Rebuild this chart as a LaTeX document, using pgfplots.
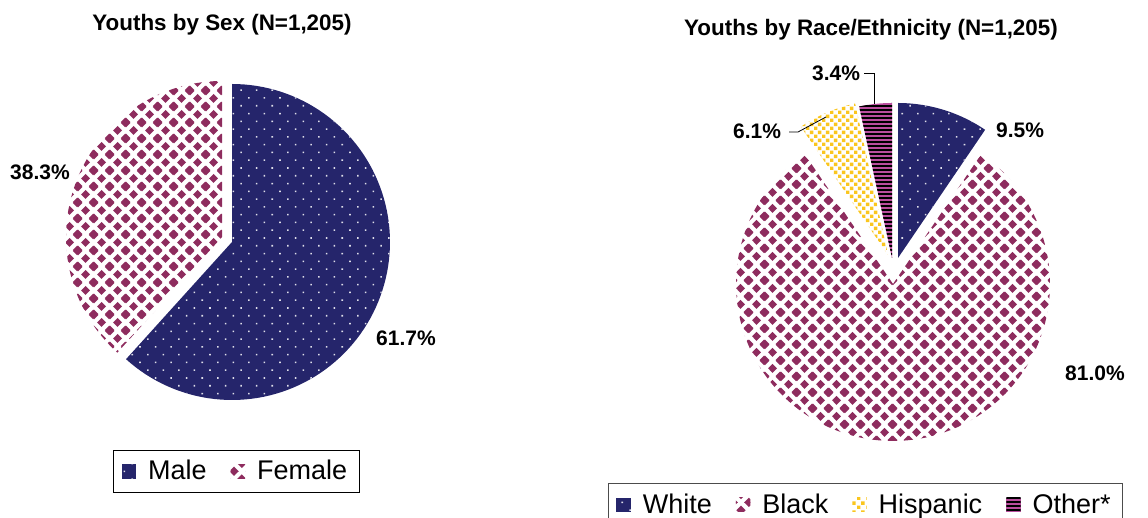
\documentclass[border=0pt]{standalone}
\usepackage{fontspec}
\setmainfont{Liberation Sans}
\usepackage{pgfplots}
\usepackage{pgfplotstable}
\pgfplotsset{compat=1.18}
\usetikzlibrary{patterns,patterns.meta}

\definecolor{navy}{RGB}{37,37,107}
\definecolor{plum}{RGB}{142,44,94}
\definecolor{gold}{RGB}{250,198,30}
\definecolor{pinkish}{RGB}{186,78,158}

% staggered diamonds (Female / Black)
\tikzdeclarepattern{
  name=diamonds, type=uncolored,
  bounding box={(0,0) and (7.8pt,7.8pt)},
  tile size={(7.8pt,7.8pt)},
  code={
    \fill (-2.3pt,0pt) -- (0pt,-2.3pt) -- (2.3pt,0pt) -- (0pt,2.3pt) -- cycle;
    \fill (5.5pt,0pt) -- (7.8pt,-2.3pt) -- (10.1pt,0pt) -- (7.8pt,2.3pt) -- cycle;
    \fill (-2.3pt,7.8pt) -- (0pt,5.5pt) -- (2.3pt,7.8pt) -- (0pt,10.1pt) -- cycle;
    \fill (5.5pt,7.8pt) -- (7.8pt,5.5pt) -- (10.1pt,7.8pt) -- (7.8pt,10.1pt) -- cycle;
    \fill (1.6pt,3.9pt) -- (3.9pt,1.6pt) -- (6.2pt,3.9pt) -- (3.9pt,6.2pt) -- cycle;
  }
}
% small squares (Hispanic)
\tikzdeclarepattern{
  name=specks, type=uncolored,
  bounding box={(0,0) and (4.2pt,4.2pt)},
  tile size={(4.2pt,4.2pt)},
  code={
    \fill (0pt,0pt) rectangle (1.8pt,1.8pt);
    \fill (2.1pt,2.1pt) rectangle (3.9pt,3.9pt);
  }
}

\pgfplotstableread{
group pct
Male 61.7
Female 38.3
}\sextable
\pgfplotstableread{
group pct
White 9.5
Black 81.0
Hispanic 6.1
Other 3.4
}\racetable

\pgfplotstablegetelem{0}{pct}\of\sextable \let\pMale\pgfplotsretval
\pgfplotstablegetelem{1}{pct}\of\sextable \let\pFemale\pgfplotsretval
\pgfplotstablegetelem{0}{pct}\of\racetable \let\pWhite\pgfplotsretval
\pgfplotstablegetelem{1}{pct}\of\racetable \let\pBlack\pgfplotsretval
\pgfplotstablegetelem{2}{pct}\of\racetable \let\pHisp\pgfplotsretval
\pgfplotstablegetelem{3}{pct}\of\racetable \let\pOther\pgfplotsretval

% start angles, clockwise from 12 o'clock
\pgfmathsetmacro{\aMale}{90-3.6*\pMale}
\pgfmathsetmacro{\aFemale}{\aMale-3.6*\pFemale}
\pgfmathsetmacro{\aWhite}{90-3.6*\pWhite}
\pgfmathsetmacro{\aBlack}{\aWhite-3.6*\pBlack}
\pgfmathsetmacro{\aHisp}{\aBlack-3.6*\pHisp}
\pgfmathsetmacro{\aOther}{\aHisp-3.6*\pOther}

\tikzset{
  lab/.style={font=\bfseries\fontsize{10.5}{12}\selectfont},
  ttl/.style={font=\bfseries\fontsize{11.2}{13}\selectfont},
}
\pgfplotsset{
  piebase/.style={
    width=574pt, height=259pt, scale only axis,
    xmin=0, xmax=1148, ymin=0, ymax=518,
    hide axis, clip=false,
    legend columns=-1,
    legend image code/.code={\path[##1] (0pt,-3.6pt) rectangle (7.2pt,3.6pt);},
    legend style={font=\fontsize{13.5}{15}\selectfont, draw=black, line width=0.5pt,
      inner xsep=4pt, inner ysep=3pt,
      /tikz/every odd column/.append style={column sep=4pt},
      /tikz/every even column/.append style={column sep=10pt}},
  },
  male/.style={draw=none, fill=navy, postaction={pattern={Dots[distance=5.5pt,radius=0.55pt,angle=45]}, pattern color=white!85!navy}},
  female/.style={draw=none, fill=white, postaction={pattern=diamonds, pattern color=plum}},
  hisp/.style={draw=none, fill=white, postaction={pattern=specks, pattern color=gold}},
  other/.style={draw=none, fill=pinkish, postaction={pattern={Lines[distance=2pt,line width=1pt,angle=0]}, pattern color=black}},
}

\begin{document}
\begin{tikzpicture}
\begin{axis}[piebase, name=ax,
  legend style={at={(0.206,0.0898)}, anchor=center}]
\addplot[male, domain=\aMale:90, samples=100, variable=\t]
  ({232+158*cos(\t)},{276+158*sin(\t)}) -- (axis cs:232,276) -- cycle;
\addplot[female, domain=\aFemale:\aMale, samples=70, variable=\t]
  ({222+156*cos(\t)},{281+156*sin(\t)}) -- (axis cs:222,281) -- cycle;
\legend{Male,Female}
\node[ttl] at (axis cs:222,493) {Youths by Sex (N=1,205)};
\node[lab] at (axis cs:40,346) {38.3\%};
\node[lab] at (axis cs:406,180) {61.7\%};
\end{axis}

\begin{axis}[piebase,
  legend style={at={(0.5296,0.0676)}, anchor=north west, draw=black!70}]
\addplot[male, domain=\aWhite:90, samples=30, variable=\t]
  ({898+155*cos(\t)},{260+155*sin(\t)}) -- (axis cs:898,260) -- cycle;
\addplot[female, domain=\aBlack:\aWhite, samples=150, variable=\t]
  ({893+157*cos(\t)},{234+157*sin(\t)}) -- (axis cs:893,234) -- cycle;
\addplot[hisp, domain=\aHisp:\aBlack, samples=20, variable=\t]
  ({888+155*cos(\t)},{263+155*sin(\t)}) -- (axis cs:888,263) -- cycle;
\addplot[other, domain=\aOther:\aHisp, samples=12, variable=\t]
  ({892+155*cos(\t)},{260+155*sin(\t)}) -- (axis cs:892,260) -- cycle;
\legend{White,Black,Hispanic,Other*}
\node[ttl] at (axis cs:871,488) {Youths by Race/Ethnicity (N=1,205)};
\node[lab] at (axis cs:1020,388) {9.5\%};
\node[lab] at (axis cs:1095,145) {81.0\%};
\node[lab] at (axis cs:757,387) {6.1\%};
\node[lab] at (axis cs:836,445) {3.4\%};
\draw[line width=0.4pt] (axis cs:789,386) -- (axis cs:798,386) -- (axis cs:826,401);
\draw[line width=0.4pt] (axis cs:864,445) -- (axis cs:874,445) -- (axis cs:874,414);
\end{axis}
\pgfresetboundingbox
\path[use as bounding box] (ax.south west) rectangle (ax.north east);
\end{tikzpicture}
\end{document}
